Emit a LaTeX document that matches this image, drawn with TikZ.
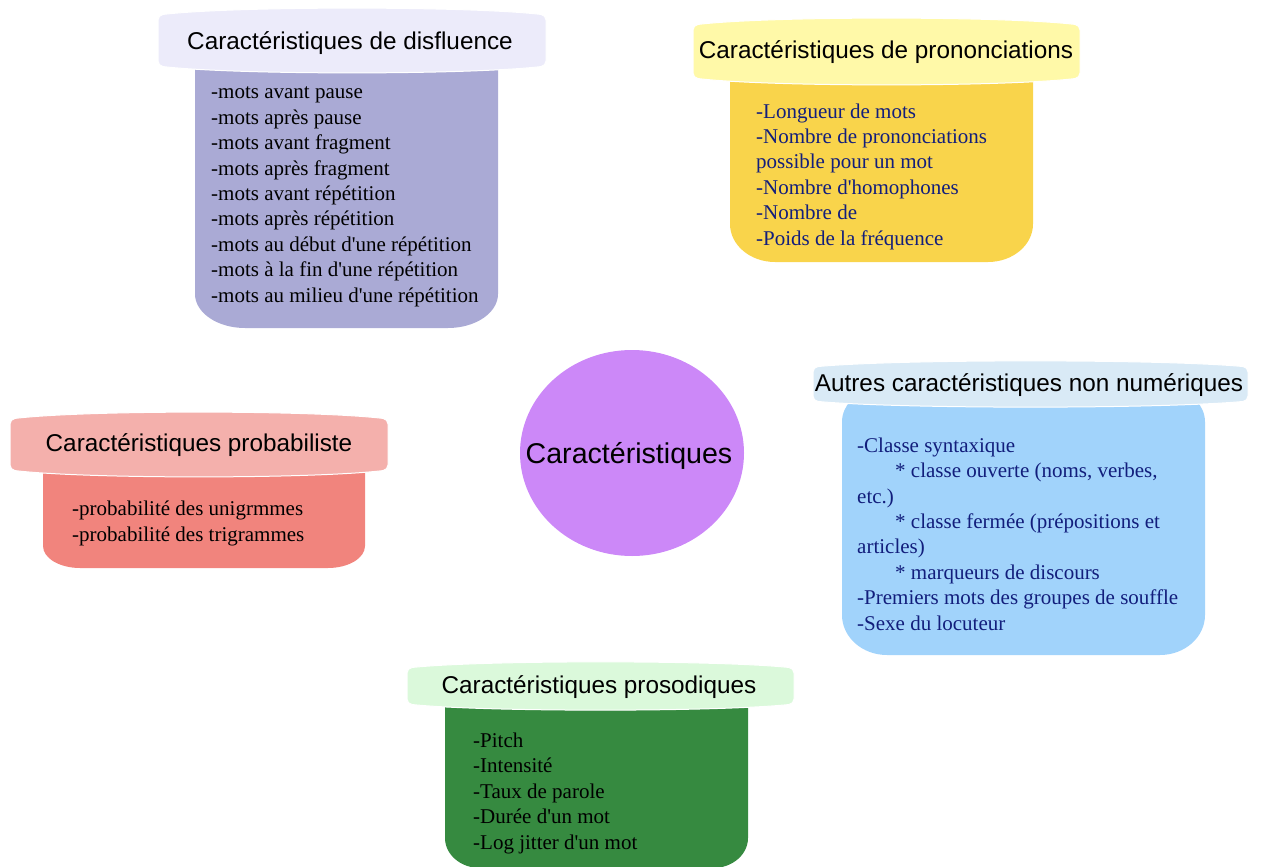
\documentclass[tikz,border=0pt]{standalone}
\usepackage{fontspec}
\setmainfont{Liberation Serif}
\setsansfont{Liberation Sans}
\usetikzlibrary{shapes.geometric}
\definecolor{disfHead}{HTML}{ECEBFA}
\definecolor{disfBody}{HTML}{AAAAD5}
\definecolor{pronHead}{HTML}{FFF9A8}
\definecolor{pronBody}{HTML}{F9D44B}
\definecolor{probHead}{HTML}{F4B0AC}
\definecolor{probBody}{HTML}{F1847D}
\definecolor{autrHead}{HTML}{D9EAF6}
\definecolor{autrBody}{HTML}{A1D3FB}
\definecolor{prosHead}{HTML}{DBF9DB}
\definecolor{prosBody}{HTML}{368A40}
\definecolor{centreFill}{HTML}{CC88F8}
\definecolor{navyText}{HTML}{121E7C}
\tikzset{
  tete/.style={draw=white,line width=1pt,rounded corners=5pt},
  titre/.style={font=\sffamily\fontsize{24.3}{29}\selectfont,inner sep=0pt},
  corps/.style={font=\fontsize{21}{25.4}\selectfont,align=left,inner sep=0pt,anchor=base west},
  centre/.style={inner sep=0pt,font=\sffamily\fontsize{28.6}{34}\selectfont},
}
\begin{document}
\begin{tikzpicture}[x=1pt,y=-1pt]
  \useasboundingbox (0,0) rectangle (1261,867);

  % Bodies first, headers on top of them.
  \fill[disfBody] (195,60) -- (498,60) -- (498,294) arc[start angle=0,end angle=90,x radius=50,y radius=34]
        -- (245,328) arc[start angle=90,end angle=180,x radius=50,y radius=34] -- cycle;
  \fill[pronBody] (730,75) -- (1033,75) -- (1033,224) arc[start angle=0,end angle=90,x radius=45,y radius=38]
        -- (775,262) arc[start angle=90,end angle=180,x radius=45,y radius=38] -- cycle;
  \fill[probBody] (43,465) -- (365,465) -- (365,546) arc[start angle=0,end angle=90,x radius=37,y radius=22]
        -- (80,568) arc[start angle=90,end angle=180,x radius=37,y radius=22] -- cycle;
  \fill[autrBody] (842,422) arc[start angle=180,end angle=270,radius=30] -- (1175,392)
        arc[start angle=270,end angle=360,radius=30] -- (1205,615)
        arc[start angle=0,end angle=90,x radius=45,y radius=40] -- (887,655)
        arc[start angle=90,end angle=180,x radius=45,y radius=40] -- cycle;
  \fill[prosBody] (445,695) -- (748,695) -- (748,838) arc[start angle=0,end angle=90,x radius=35,y radius=30]
        -- (480,868) arc[start angle=90,end angle=180,x radius=35,y radius=30] -- cycle;

  % Headers.
  \path[tete,fill=disfHead] (158,15) .. controls (236,6) and (468,6) .. (546,15) -- (546,66)
        .. controls (468,75) and (236,75) .. (158,66) -- cycle;
  \path[tete,fill=pronHead] (693,25) .. controls (770,16) and (1003,16) .. (1080,25) -- (1080,78)
        .. controls (1003,87) and (770,87) .. (693,78) -- cycle;
  \path[tete,fill=probHead] (10,419) .. controls (86,410) and (312,410) .. (388,419) -- (388,470)
        .. controls (312,479) and (86,479) .. (10,470) -- cycle;
  \path[tete,fill=autrHead] (813,367) .. controls (900,359) and (1161,359) .. (1248,367) -- (1248,401)
        .. controls (1161,409) and (900,409) .. (813,401) -- cycle;
  \path[tete,fill=prosHead] (407,668) .. controls (484,660) and (717,660) .. (794,668) -- (794,704)
        .. controls (717,712) and (484,712) .. (407,704) -- cycle;

  \node[titre] (disfTitre) at (350,43) {Caractéristiques de disfluence};
  \node[titre] (pronTitre) at (886,52) {Caractéristiques de prononciations};
  \node[titre] (probTitre) at (199,445) {Caractéristiques probabiliste};
  \node[titre] (autrTitre) at (1029,385) {Autres caractéristiques non numériques};
  \node[titre] (prosTitre) at (599,687) {Caractéristiques prosodiques};

  % Lists, placed by the baseline of their last line.
  \node[corps] (disfListe) at (211,302) {-mots avant pause\\-mots après pause\\-mots avant fragment\\
    -mots après fragment\\-mots avant répétition\\-mots après répétition\\
    -mots au début d\textquotesingle une répétition\\-mots à la fin d\textquotesingle une répétition\\
    -mots au milieu d\textquotesingle une répétition};
  \node[corps,text=navyText] (pronListe) at (756,245) {-Longueur de mots\\-Nombre de prononciations\\
    possible pour un mot\\-Nombre d\textquotesingle homophones\\-Nombre de\\-Poids de la fréquence};
  \node[corps] (probListe) at (72,541) {-probabilité des unigrmmes\\-probabilité des trigrammes};
  \node[corps,text=navyText] (autrListe) at (857,630) {-Classe syntaxique\\
    \hspace*{38pt}* classe ouverte (noms, verbes,\\etc.)\\
    \hspace*{38pt}* classe fermée (prépositions et\\articles)\\
    \hspace*{38pt}* marqueurs de discours\\-Premiers mots des groupes de souffle\\-Sexe du locuteur};
  \node[corps] (prosListe) at (473,849) {-Pitch\\-Intensité\\-Taux de parole\\-Durée d\textquotesingle un mot\\
    -Log jitter d\textquotesingle un mot};

  % Centre.
  \fill[centreFill] (632,453) ellipse[x radius=112,y radius=103];
  \node[centre] (carac) at (629,456) {Caractéristiques};
\end{tikzpicture}
\end{document}
